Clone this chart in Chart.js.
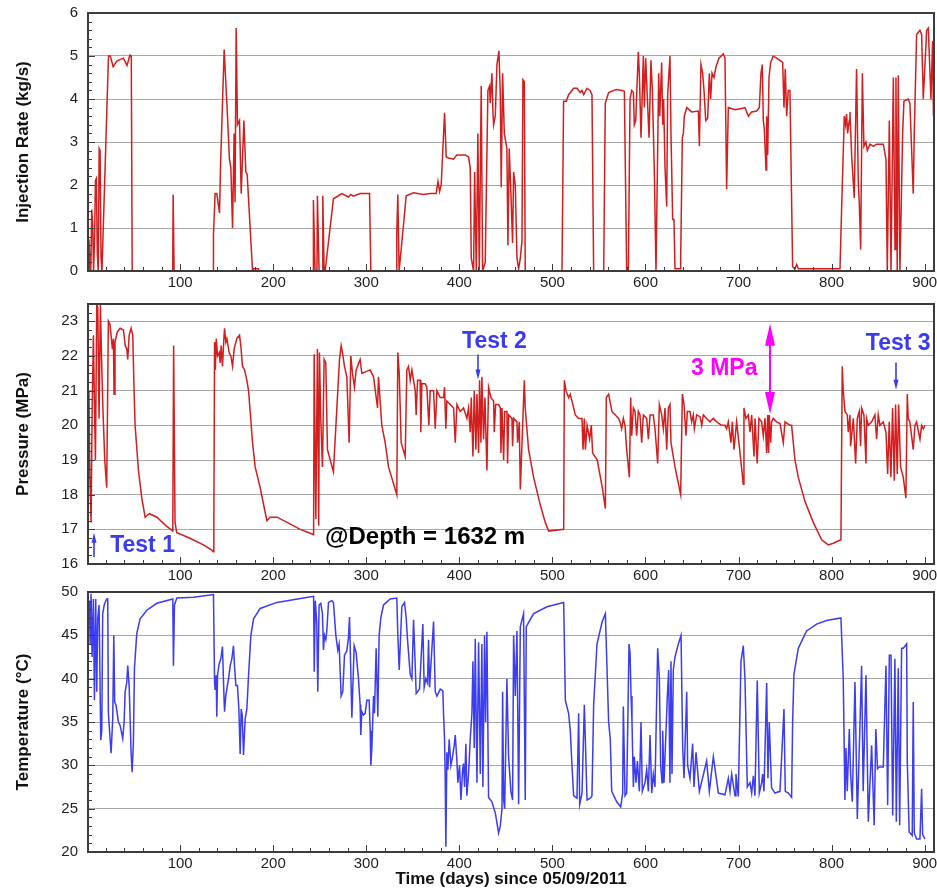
<!DOCTYPE html>
<html>
<head>
<meta charset="utf-8">
<title>Injection rate, pressure and temperature</title>
<script src="https://cdn.jsdelivr.net/npm/chart.js@4.4.0/dist/chart.umd.min.js"></script>
<style>
  body { margin: 0; background: #fff; }
  canvas { position: absolute; left: 0; }
</style>
</head>
<body>
<canvas id="rateChart" width="937" height="295" style="top:0px"></canvas>
<canvas id="pressureChart" width="937" height="303" style="top:285px"></canvas>
<canvas id="tempChart" width="937" height="315" style="top:575px"></canvas>

<script>
// ---- data (days since 05/09/2011) ----
const xTicks = [100, 200, 300, 400, 500, 600, 700, 800, 900];
const rateTicks = [0, 1, 2, 3, 4, 5, 6];
const pressureTicks = [16, 17, 18, 19, 20, 21, 22, 23];
const tempTicks = [20, 25, 30, 35, 40, 45, 50];

// injection rate, kg/s
const rateDays = [
  1.2, 2, 3, 4, 5, 6, 7, 8, 9, 10, 11, 12, 13, 14, 15, 16, 23, 25, 28, 32, 39, 43, 46, 47.5, 48.5,
  92, 92.5, 93.5,
  135.5, 135.8, 137.6, 139.4, 142.3, 143.5, 147.3, 150.2, 153, 154.5, 156.3, 158, 159, 160.2, 161.6, 163.8,
  165.6, 168.5, 170.6, 172, 177.8, 179, 184, 185,
  243, 243.2, 245, 247, 247.5, 249.3, 253, 253.3, 254.7, 255.8, 264.7, 270.1, 273.7, 280.9, 283.4, 286,
  293.4, 303.5, 304.9,
  332.5, 332.8, 333.9, 335.3, 342.9, 350.8, 361.5, 368.7, 375.1, 377, 378.8, 380.5, 384.1, 385.9, 388.4,
  393.8, 397.4, 406.3, 409.9, 411.7, 412.8, 415.3, 416.4, 418.2, 419.9, 421.4, 423.5, 425, 427.8, 430.7,
  432.5, 433.2, 435, 436.1, 436.8, 438.6, 440.4, 442.5, 444, 445, 446.5, 448.3, 451.1, 452.2, 453.6,
  455.4, 457.2, 458.3, 460.1, 461.9, 463.7, 465.5, 467.3, 468.3, 469.8, 470.8,
  510.3, 512, 514.9, 517.4, 522.8, 526.4, 530, 531.8, 533.6, 537.2, 540.4, 542.5, 544.3,
  555.1, 556.8, 560.4, 565.8, 569, 574.4, 577.3, 579.8,
  581.6, 583.4, 585.2, 587, 588, 589.5, 592.3, 593.4, 595.2, 597.7, 598.8, 600.2, 603.8, 605.9, 607.4,
  609.5, 611.3, 614.2, 615.3, 617.4, 618.5, 619.5, 621, 622.8, 623.8, 626.3, 627.4, 629.2, 630.6, 631.7,
  637.1, 637.8, 639.6, 640.7, 641.7, 644.3, 649.6, 656.8, 657.9, 659.6, 661.4, 662.9, 664.7, 666.8, 668.6,
  670, 671.5, 673.6, 675.8, 679, 683.6, 685.4, 687.2, 689, 696.2, 703.3, 706.9, 708.7, 710.5, 714.1,
  719.4, 722.3, 724.1, 725.5, 726.6, 727.7, 729.5, 730.2, 731.3, 732.7, 734.5, 737.3, 740.9, 744.5, 747.4,
  748.8, 750.2, 751.7, 753.4, 755.2, 758.1, 760.6, 762.4, 764.2,
  809, 810.8, 813.6, 815, 816.1, 817.2, 819, 819.7, 821.5, 824.3, 826.8, 828.6, 829.7, 831.2, 833, 834.7,
  836.9, 838.3, 841.2, 844.8, 848.3, 855.5, 858.4, 859.8, 862, 863.8, 866.3, 868.1, 869.1, 870.5, 871.6,
  873.4, 876.3, 877.7, 882.3, 884.1, 887.7, 888.8, 891.3, 894.9, 896.7, 898.5, 902.1, 903.9, 906.7, 908.5,
  909.4
];
const rateValues = [
  0, 0.73, 0.2, 0, 1.43, 1.1, 0, 0.7, 2.1, 2.15, 0.4, 0, 2.85, 2.8, 0.3, 0, 5.0, 5.0, 4.75, 4.88, 4.95, 4.78, 5.02, 5.0, 0,
  0, 1.78, 0,
  0, 0.85, 1.8, 1.8, 1.35, 2.5, 5.15, 3.9, 2.6, 2.4, 1.0, 3.2, 1.6, 5.65, 3.4, 3.5,
  1.8, 3.5, 2.3, 2.25, 0, 0.05, 0.05, 0,
  0, 1.65, 0, 0, 1.75, 0, 0, 1.75, 0, 0, 1.68, 1.75, 1.8, 1.72, 1.78, 1.74,
  1.8, 1.8, 0,
  0, 0.9, 1.78, 0, 1.75, 1.82, 1.78, 1.8, 1.8, 2.08, 1.85, 2.0, 3.68, 2.65, 2.63,
  2.6, 2.7, 2.7, 2.65, 2.4, 0.3, 0, 2.3, 0, 3.2, 0, 4.3, 0, 0.2, 4.2,
  4.3, 3.9, 4.6, 3.7, 3.4, 3.6, 4.8, 5.12, 4.1, 1.95, 4.6, 3.2, 2.85, 0.6, 2.85,
  1.8, 0.65, 2.3, 2.0, 0.3, 0.05, 0.3, 0.7, 4.45, 4.4, 0,
  0, 3.95, 3.95, 4.1, 4.25, 4.25, 4.15, 4.2, 4.1, 4.25, 4.2, 4.1, 0,
  0, 3.9, 4.15, 4.2, 4.22, 4.2, 4.18, 0,
  0, 4.0, 4.2, 4.15, 3.4, 3.5, 5.1, 4.6, 3.1, 5.0, 3.8, 4.95, 3.1, 4.9, 4.2,
  2.3, 0, 4.6, 3.6, 4.85, 3.4, 4.0, 2.4, 1.5, 4.1, 5.0, 3.2, 1.2, 1.2, 0.05,
  0.05, 0.3, 3.1, 3.2, 3.6, 3.8, 3.7, 3.72, 2.9, 4.8, 4.6, 4.2, 3.5, 3.55, 4.6,
  4.0, 4.6, 4.5, 4.75, 4.95, 5.05, 4.95, 1.9, 3.8, 3.75, 3.78, 3.8, 3.7, 3.6, 3.7,
  3.72, 3.8, 4.6, 4.8, 3.5, 3.3, 2.35, 3.6, 2.7, 4.5, 4.85, 5.0, 4.95, 4.9, 4.85,
  3.8, 4.7, 3.6, 4.2, 4.2, 0.1, 0.05, 0.15, 0.05,
  0.05, 1.5, 3.6, 3.4, 3.65, 3.2, 3.5, 3.7, 2.7, 1.7, 4.7, 2.1, 1.6, 0.5, 4.6, 2.9,
  3.0, 2.8, 2.95, 2.9, 2.95, 2.95, 2.6, 0, 3.5, 0, 4.5, 0.5, 4.5, 0, 4.55,
  0, 3.2, 3.95, 4.0, 3.9, 1.8, 3.2, 5.5, 5.6, 5.5, 4.0, 5.6, 5.65, 4.0, 5.35,
  3.6
];

// pressure, MPa
const pressureDays = [
  1.2, 2, 3, 4.3, 5.5, 6.8, 8, 9, 10.4, 11.5, 12.9, 14.3, 15.5, 17, 19, 21.1, 22.9, 24.7, 27.2, 28.3, 29,
  30, 32.6, 35.5, 39.1, 41, 42.7, 43.7, 45.2, 47.3, 49.1, 50.5, 51.6, 55.2, 58.8, 62.4, 64.5, 67, 75, 85,
  92.1, 93, 94.5, 96.4, 110, 125, 134, 135.5, 136.2, 137, 137.8, 138.8, 140.2, 142, 143, 144.1, 145.5,
  146.6, 147.7, 149.1, 150.2, 152.7, 154.5, 156.3, 158, 160.9, 163.8, 165.2, 167, 169.2, 171.7, 173.5,
  177.8, 180.6, 186, 193.2, 196.8, 204, 215, 229, 243.4,
  244, 245.8, 247.5, 248.9, 249.7, 251.1, 252.9, 254.7, 256.5, 258.3, 264.7, 271.2, 273, 274.4, 276.6,
  279.1, 281.6, 283.4, 285.2, 287.3, 289.1, 293.4, 295.2, 304.2, 307.8, 312.1, 313.1, 316.7, 320.3, 323.9,
  332.8, 333.9, 335.4, 337.5, 341.8, 343.6, 345.4, 347.2, 349, 350.8, 352.6, 353.6, 355.1, 357.9, 358.6,
  359.7, 363.3, 365.1, 367.2, 368.7, 372.3, 374.1, 375.9, 379.5, 383, 384.1, 385.5, 386.6, 390.2, 393.8,
  395.6, 397.4, 400.9, 404.5, 408.1, 409.9, 411.7, 412.8, 414.6, 416, 417.8, 418.9, 420.7, 421.7, 423.2,
  424.2, 426, 427.5, 429.6, 431.4, 434, 436.8, 437.5, 439, 442.2, 444, 444.7, 445.8, 447.6, 448.7, 451.1,
  451.8, 453, 456.5, 457.2, 458.3, 461.9, 462.6, 464.4, 465.5, 469.8, 470.8, 474.4, 479.8, 487, 492.3,
  496, 512.1,
  512.8, 514.6, 517.4, 519.2, 522.8, 524.6, 528.2, 531.8, 532.9, 534.3, 535.4, 537.2, 540, 541.8, 543.2,
  548.2, 553.6, 556.9, 557.9, 560.4, 563.9, 567.6, 571.1, 572.6, 574.4, 576.2, 578, 579.8, 582.7, 584.1,
  585.2, 587, 588.8, 590.5, 592.3, 594.1, 595.9, 597.7, 601.3, 603.1, 604.9, 608.4, 610.2, 613.1, 614.9,
  617.4, 619.2, 621, 622.8, 624.6, 626.3, 627.4, 631.7, 637.8, 639.6, 641.4, 643.5, 645, 647.8, 649.6,
  651.4, 652.5, 655, 658.6, 660.4, 662.2, 665.7, 669.3, 672.9, 676.5, 681.8, 685.4, 687.2, 689, 691.9,
  693.3, 695.1, 697.9, 700.8, 705.1, 705.8, 708, 710.5, 712.3, 714.1, 716.6, 717.7, 720.1, 721.9, 724.8,
  726.6, 728.4, 730.2, 731.3, 732.3, 733, 734.5, 735.5, 737.3, 740.9, 744.5, 748.1, 749.9, 755.2, 757,
  760.6, 764.2, 771.4, 780.3, 789.3, 796.4, 801.8, 810,
  811.4, 812.5, 814.3, 816.8, 817.9, 819.7, 820.4, 823.3, 825.8, 827.6, 829.7, 831.1, 832.2, 834.7, 836.9,
  837.6, 839.4, 843, 846.5, 848.3, 850.1, 851.9, 855.5, 858.4, 860.2, 861.9, 863.7, 865.5, 867.3, 868.7,
  870.5, 872, 874.1, 877, 879.8, 881.3, 882.3, 884.1, 887.7, 889.5, 891.3, 894.9, 896.7, 898.5, 900.2
];
const pressureValues = [
  19.0, 21.0, 18.5, 17.2, 20.5, 22.6, 20.5, 19.0, 23.5, 23.4, 20.2, 23.5, 22.0, 20.5, 19.0, 18.2, 23.0, 22.9, 22.2, 22.5, 20.9,
  22.4, 22.7, 22.8, 22.75, 22.3, 22.2, 21.9, 22.6, 22.8, 22.6, 21.0, 20.0, 18.7, 17.9, 17.35, 17.4, 17.45, 17.35, 17.1,
  16.95, 22.3, 17.2, 16.9, 16.75, 16.55, 16.4, 16.35, 17.1, 22.4, 21.6, 22.5, 22.0, 22.1, 21.8, 22.3, 21.7,
  22.3, 22.8, 22.4, 22.5, 22.1, 22.0, 21.7, 22.2, 22.5, 22.6, 22.3, 21.7, 21.6, 21.3, 21.0,
  19.5, 18.8, 18.2, 17.25, 17.35, 17.35, 17.2, 17.0, 16.85,
  22.05, 17.3, 22.2, 17.1, 22.1, 20.2, 18.8, 21.9, 21.8, 19.3, 18.66, 21.9, 22.3, 22.1, 21.7,
  21.4, 19.5, 22.0, 21.5, 21.1, 21.6, 21.9, 21.5, 21.6, 21.4, 20.5, 21.4, 20.0, 19.5, 18.8,
  18.0, 22.1, 21.5, 19.5, 19.1, 21.6, 21.7, 21.3, 21.6, 21.3, 21.0, 20.3, 21.3, 21.3, 19.8,
  21.2, 21.2, 21.1, 20.0, 21.0, 21.0, 19.9, 21.0, 20.8, 20.8, 21.1, 19.9, 20.7, 20.6, 20.5,
  19.5, 20.6, 20.4, 20.5, 20.2, 20.5, 19.8, 20.8, 19.1, 21.0, 19.3, 20.9, 19.2, 21.3, 19.5,
  21.4, 19.6, 20.8, 18.7, 21.1, 20.8, 20.7, 19.8, 20.6, 20.6, 20.5, 19.2, 20.5, 19.0, 20.4, 20.4,
  18.9, 20.3, 20.2, 19.4, 20.2, 20.1, 19.5, 20.1, 18.15, 21.3, 20.5, 19.3, 18.5, 17.7, 17.2,
  16.95, 17.0,
  21.3, 21.0, 20.8, 20.9, 20.5, 20.3, 20.2, 20.2, 19.3, 20.2, 19.3, 20.0, 19.6, 20.0, 19.2,
  19.0, 18.2, 17.6, 20.8, 20.9, 20.4, 20.3, 20.2, 20.1, 19.9, 20.2, 20.0, 19.3, 18.5, 20.8,
  19.7, 20.5, 20.4, 19.7, 20.4, 20.3, 19.5, 20.3, 20.2, 19.6, 20.3, 20.3, 19.9, 18.9, 20.6,
  20.3, 19.9, 20.5, 19.3, 20.5, 20.6, 19.5, 18.8, 18.0, 20.9, 20.6, 19.7, 20.4, 20.4, 20.1,
  20.3, 19.9, 20.3, 20.25, 20.0, 20.3, 20.2, 20.1, 20.2, 20.1, 20.0, 20.0, 19.9, 20.1, 19.5,
  20.1, 19.3, 20.1, 19.4, 18.3, 20.5, 20.2, 20.3, 19.8, 20.3, 19.1, 20.2, 18.9, 20.2, 20.1,
  19.7, 20.2, 19.2, 20.3, 19.2, 20.3, 19.5, 20.1, 20.2, 20.1, 20.05, 19.5, 20.1, 20.0, 20.0,
  19.0, 18.5, 17.8, 17.2, 16.7, 16.55, 16.6, 16.7,
  21.7, 21.0, 20.4, 20.3, 19.8, 20.3, 19.4, 20.2, 18.9, 20.2, 20.4, 19.4, 20.5, 20.3, 18.9,
  20.2, 20.0, 20.1, 20.3, 19.6, 20.3, 20.0, 20.1, 19.8, 18.6, 20.1, 18.5, 20.5, 18.4, 20.6,
  18.6, 20.6, 18.8, 18.5, 17.9, 20.9, 20.2, 20.1, 19.3, 20.0, 20.1, 19.6, 20.0, 19.9, 20.0
];

// temperature, °C
const tempDays = [
  1.2, 2.5, 3.3, 4.3, 5.4, 6.8, 7.9, 9.3, 10.4, 11.5, 12.9, 14.7, 15.8, 16.8, 18.6, 21.1, 22.2, 22.9, 25.8,
  27.6, 28.7, 29.7, 31.2, 33.7, 35.5, 38.3, 39.8, 40.9, 42.7, 43.7, 45.2, 47.3, 48.4, 49.8, 50.9, 53.4, 57,
  64.2, 74.9, 92.1, 92.8, 93.9, 96.4, 114.3, 135.8, 137, 137.6, 138.7, 139.4, 140.2, 141.9, 143.7, 145.5,
  146.6, 147.7, 149.1, 150.2, 152, 153.8, 155.6, 157.3, 158.4, 159.9, 161.6, 163.1, 164.5, 165.6, 166.7,
  168.1, 169.9, 171.7, 173.5, 176, 178.9, 186, 203.9, 232.5, 243.4,
  244.1, 245.2, 246.8, 247.9, 249.3, 251.1, 252.9, 254, 255.1, 256.5, 257.6, 259.4, 263, 264.7, 267.3,
  269.4, 270.8, 273, 274.8, 276.6, 279.1, 280.9, 282, 284.5, 287, 289.1, 291.6, 293.4, 294.1, 295.2, 297,
  298.8, 300.6, 303.1, 304.2, 304.9, 306, 307.8, 308.8, 310.6, 312.4, 313.8, 315.6, 318.5, 325.7, 332.8,
  333.9, 335.4, 338.2, 341.1, 342.9, 344.3, 345.4, 347.2, 349, 350.8, 352.6, 353.6, 355.1, 357.2, 360.8,
  362.2, 364, 365.8, 366.9, 368, 372.3, 374.1, 375.9, 379.5, 382.3, 383, 384.1, 384.8, 385.5, 386.6,
  387.7, 389.1, 390.9, 392.7, 394.5, 395.6, 397.4, 398.4, 400.2, 401.7, 403.5, 404.5, 405.6, 407, 408.1,
  409.9, 411.7, 413.5, 414.6, 416, 417.1, 418.9, 420.7, 422.5, 424.2, 425.3, 427.1, 428.2, 429.6, 431.4,
  435, 438.6, 442.2, 444, 445.8, 446.5, 447.6, 448.7, 451.1, 452.9, 455.4, 457.2, 458.3, 460.1, 461.9,
  463.7, 465.5, 469, 470.8, 471.9, 479.8, 494.2, 512.1,
  513.9, 517.4, 519.2, 521, 522.8, 526.4, 528.2, 529.3, 531.8, 534.3, 537.2, 540.8, 542.5, 544.3, 547.9,
  553.3, 556.9, 560.4, 562.2, 563.7, 569.1, 573.4, 575.5, 576.2, 578, 579.8, 582.3, 583.4, 584.5, 585.5,
  587, 588, 589.8, 591.3, 593.4, 595.2, 596.6, 599.5, 601.3, 603.1, 604.9, 606.7, 608.4, 610.2, 613.1,
  614.9, 616.3, 617.8, 618.5, 619.9, 623.5, 624.9, 626.3, 627.4, 628.5, 629.9, 631.7, 635.3, 638.2, 640,
  641.4, 644.3, 645.3, 647.8, 650.7, 652.1, 654.3, 657.9, 665.7, 668.6, 672.9, 678.3, 685.4, 689, 690.8,
  692.6, 696.2, 697.2, 699.7, 702.6, 705.1, 706.9, 709.4, 712.3, 714.1, 715.9, 717.6, 720.1, 722.3, 724.8,
  725.9, 727.3, 730.2, 731.6, 733, 735.5, 739.1, 744.5, 748.8, 750.2, 753.5, 757, 758.1, 759.5, 764.2,
  773.1, 783.9, 794.6, 810,
  812.5, 814.3, 815.4, 816.8, 819, 820.4, 822.2, 823.3, 825.1, 827.6, 832.2, 833.9, 836.9, 839.4, 843,
  845.7, 847.5, 849.3, 851.1, 855.5, 858.4, 860.2, 862, 863.8, 865.6, 868, 869.5, 871.6, 873.1, 875.2,
  877, 880.6, 881.3, 883.3, 886.6, 887.7, 888.8, 891.3, 894.9, 896.7, 897.8, 900.2
];
const tempValues = [
  46.5, 49.0, 44.0, 49.8, 42.5, 49.2, 37.5, 49.2, 38.5, 47.0, 48.5, 32.9, 34.0, 47.5, 48.6, 49.2, 49.2, 36.0, 31.4,
  35.4, 45.0, 37.3, 36.9, 35.0, 34.6, 33.1, 35.0, 38.5, 39.6, 41.5, 39.2, 31.5, 29.2, 32.7, 41.2, 45.2, 46.9,
  47.9, 48.7, 49.2, 41.5, 48.5, 49.3, 49.4, 49.7, 39.6, 38.7, 40.4, 35.6, 40.4, 41.7, 42.3, 43.7,
  39.6, 36.2, 38.1, 38.8, 40.0, 41.5, 42.3, 43.8, 41.5, 39.2, 39.2, 36.5, 31.3, 36.5, 35.8,
  31.2, 35.4, 36.5, 40.4, 45.0, 46.9, 48.1, 48.8, 49.3, 49.5,
  40.8, 49.0, 46.5, 38.5, 48.5, 48.7, 47.5, 43.3, 45.0, 44.5, 45.5, 48.8, 49.0, 48.8, 45.0,
  43.3, 44.0, 38.0, 38.5, 42.7, 43.2, 44.8, 47.1, 35.5, 43.8, 43.0, 40.0, 37.0, 33.5, 36.2, 35.8,
  36.0, 37.5, 37.5, 34.0, 30.0, 32.0, 38.0, 36.0, 43.5, 35.6, 45.0, 47.0, 48.5, 49.2, 49.3,
  45.0, 41.0, 48.3, 48.8, 47.0, 44.5, 43.0, 40.5, 40.0, 46.8, 41.5, 38.3, 38.5, 38.8, 46.3,
  39.0, 40.0, 39.5, 44.5, 39.0, 46.6, 38.5, 38.0, 38.8, 38.6, 36.0, 33.0, 28.5, 20.6, 31.5,
  29.5, 33.0, 30.0, 31.0, 32.3, 33.5, 30.5, 28.0, 30.0, 26.0, 29.5, 30.2, 27.5, 32.5, 26.5,
  29.0, 33.0, 36.0, 42.0, 32.0, 44.6, 28.0, 44.2, 29.0, 44.0, 27.5, 45.0, 35.0, 45.4, 26.3,
  25.8, 24.5, 22.2, 23.0, 25.0, 38.5, 26.0, 25.0, 40.0, 31.0, 27.0, 26.0, 45.0, 38.0, 45.5,
  25.5, 46.0, 47.5, 26.0, 46.0, 47.5, 48.3, 48.8,
  37.5, 36.0, 34.0, 30.0, 26.5, 26.2, 36.0, 25.5, 26.8, 37.0, 26.0, 26.2, 26.5, 37.0, 44.0,
  46.5, 47.5, 35.0, 33.0, 27.0, 25.8, 25.2, 26.8, 36.8, 26.5, 26.8, 44.0, 43.0, 38.0, 35.0,
  27.5, 31.0, 28.0, 30.5, 27.0, 35.0, 27.0, 28.0, 29.5, 27.0, 33.5, 26.8, 29.0, 27.5, 43.5,
  40.0, 30.0, 28.0, 34.0, 28.0, 38.0, 41.0, 28.0, 42.0, 29.0, 41.0, 42.5, 44.0, 45.0, 32.0,
  28.5, 38.5, 30.0, 28.5, 32.5, 27.5, 31.5, 27.0, 30.5, 27.0, 31.0, 26.8, 26.6, 28.5, 27.0,
  29.0, 26.5, 29.0, 26.4, 42.0, 43.8, 40.0, 27.5, 28.0, 26.8, 28.8, 26.5, 39.8, 26.8, 28.0,
  29.0, 27.0, 39.5, 28.5, 35.0, 27.4, 26.8, 27.0, 36.5, 27.0, 26.8, 26.3, 35.0, 40.5, 43.5,
  45.5, 46.3, 46.7, 47.0,
  40.0, 26.0, 32.0, 27.0, 34.2, 29.0, 25.8, 31.0, 39.6, 23.8, 41.5, 27.0, 40.4, 23.5, 32.3,
  23.1, 34.2, 29.6, 29.8, 29.8, 41.5, 25.4, 42.7, 42.7, 24.2, 42.3, 23.5, 41.2, 23.1, 43.5,
  43.5, 44.0, 30.4, 22.3, 21.9, 37.3, 22.2, 21.5, 21.5, 27.3, 22.0, 21.5
];

// ---- annotations on the pressure panel ----
const testLabels = ['Test 1', 'Test 2', 'Test 3'];
const testDays = [7.6, 420, 869];

const FONT = '"Liberation Sans", Arial, Helvetica, sans-serif';
Chart.defaults.font.family = FONT;
Chart.defaults.font.size = 15;
Chart.defaults.color = '#1e1e1e';

const toPoints = (days, values) => days.map((d, i) => ({ x: d, y: values[i] }));

// frame around the plot area plus inward-pointing major/minor ticks
const panelFrame = {
  id: 'panelFrame',
  afterDatasetsDraw(chart, args, opts) {
    const { ctx, chartArea: a, scales: { x, y } } = chart;
    ctx.save();
    ctx.strokeStyle = '#3c3c3c';
    ctx.lineWidth = 1;
    ctx.beginPath();
    for (let v = 0; v <= x.max; v += 20) {
      if (v < x.min) continue;
      const px = Math.round(x.getPixelForValue(v)) + 0.5;
      const len = v % 100 === 0 ? 7 : 4;
      ctx.moveTo(px, a.bottom);
      ctx.lineTo(px, a.bottom - len);
    }
    const n = Math.round((y.max - y.min) / opts.yMinor);
    for (let i = 0; i <= n; i++) {
      const v = y.min + i * opts.yMinor;
      const major = Math.abs(v / opts.yMajor - Math.round(v / opts.yMajor)) < 1e-6;
      const py = Math.round(y.getPixelForValue(v)) + 0.5;
      ctx.moveTo(a.left, py);
      ctx.lineTo(a.left + (major ? 7 : 4), py);
    }
    ctx.stroke();
    ctx.lineWidth = 2;
    ctx.strokeRect(a.left, a.top, a.right - a.left, a.bottom - a.top);
    ctx.restore();
  }
};

function drawArrow(ctx, x, yFrom, yTo, width, headLen, headW, both) {
  const dir = yTo < yFrom ? -1 : 1;
  ctx.lineWidth = width;
  ctx.beginPath();
  ctx.moveTo(x, both ? yFrom + dir * headLen * 0.8 : yFrom);
  ctx.lineTo(x, yTo - dir * headLen * 0.8);
  ctx.stroke();
  const head = (tipY, d) => {
    ctx.beginPath();
    ctx.moveTo(x, tipY);
    ctx.lineTo(x - headW / 2, tipY - d * headLen);
    ctx.lineTo(x + headW / 2, tipY - d * headLen);
    ctx.closePath();
    ctx.fill();
  };
  head(yTo, dir);
  if (both) head(yFrom, -dir);
}

const pressureNotes = {
  id: 'pressureNotes',
  afterDatasetsDraw(chart) {
    const { ctx, scales: { x, y } } = chart;
    ctx.save();
    ctx.textBaseline = 'middle';
    ctx.textAlign = 'left';

    // test markers
    const blue = '#3a3af0';
    ctx.fillStyle = blue;
    ctx.strokeStyle = blue;
    ctx.font = 'bold 23px ' + FONT;
    const textAt = [[24.8, 16.54], [402.9, 22.41], [836.8, 22.36]];
    const arrowSpan = [[16.2, 16.9], [22.04, 21.32], [21.81, 21.03]];
    testLabels.forEach((label, i) => {
      ctx.fillText(label, x.getPixelForValue(textAt[i][0]), y.getPixelForValue(textAt[i][1]));
      const px = Math.round(x.getPixelForValue(testDays[i]));
      drawArrow(ctx, px, y.getPixelForValue(arrowSpan[i][0]), y.getPixelForValue(arrowSpan[i][1]), 1.6, 10, 5, false);
    });

    // 3 MPa range
    ctx.fillStyle = '#ff00ff';
    ctx.strokeStyle = '#ff00ff';
    ctx.fillText('3 MPa', x.getPixelForValue(648.9), y.getPixelForValue(21.64));
    drawArrow(ctx, Math.round(x.getPixelForValue(733.4)), y.getPixelForValue(20.33), y.getPixelForValue(22.93), 2, 22, 10, true);

    // depth label
    ctx.fillStyle = '#000';
    ctx.font = 'bold 24px ' + FONT;
    ctx.fillText('@Depth = 1632 m', x.getPixelForValue(255.7), y.getPixelForValue(16.77));
    ctx.restore();
  }
};

function makePanel(id, cfg) {
  return new Chart(document.getElementById(id), {
    type: 'line',
    data: {
      datasets: [{
        data: toPoints(cfg.days, cfg.values),
        borderColor: cfg.color,
        borderWidth: 1.5,
        pointRadius: 0,
        tension: 0,
        fill: false
      }]
    },
    options: {
      responsive: false,
      animation: false,
      events: [],
      layout: { padding: { top: cfg.padTop, right: 3, left: 0, bottom: 0 } },
      plugins: {
        legend: { display: false },
        tooltip: { enabled: false },
        panelFrame: { yMinor: cfg.yMinor, yMajor: cfg.yMajor }
      },
      scales: {
        x: {
          type: 'linear',
          min: 1,
          max: 910,
          afterBuildTicks: s => { s.ticks = xTicks.map(v => ({ value: v })); },
          afterFit: s => {
            s.height = cfg.xHeight;
            s.paddingLeft = 0;
            s.paddingRight = 0;
          },
          grid: { display: false, drawTicks: false },
          border: { display: false },
          ticks: { padding: 3, maxRotation: 0, autoSkip: false },
          title: {
            display: !!cfg.xTitle,
            text: cfg.xTitle || '',
            font: { size: 17, weight: 'bold' },
            color: '#111',
            padding: { top: 0, bottom: 0 }
          }
        },
        y: {
          min: cfg.yMin,
          max: cfg.yMax,
          afterBuildTicks: s => { s.ticks = cfg.yTicks.map(v => ({ value: v })); },
          afterFit: s => {
            s.width = 88;
            s.paddingTop = 0;
            s.paddingBottom = 0;
          },
          grid: { color: '#a9a9a9', lineWidth: 1, drawTicks: false },
          border: { display: false },
          ticks: { padding: 10 },
          title: {
            display: true,
            text: cfg.yTitle,
            font: { size: 17, weight: 'bold' },
            color: '#111',
            padding: { top: 13, bottom: 0 }
          }
        }
      }
    },
    plugins: cfg.extra ? [panelFrame, cfg.extra] : [panelFrame]
  });
}

makePanel('rateChart', {
  days: rateDays, values: rateValues, color: '#d21e1e',
  yMin: 0, yMax: 6, yTicks: rateTicks, yMinor: 0.2, yMajor: 1,
  yTitle: 'Injection Rate (kg/s)', padTop: 13, xHeight: 24
});

makePanel('pressureChart', {
  days: pressureDays, values: pressureValues, color: '#d21e1e',
  yMin: 16, yMax: 23.5, yTicks: pressureTicks, yMinor: 0.25, yMajor: 1,
  yTitle: 'Pressure (MPa)', padTop: 19, xHeight: 24, extra: pressureNotes
});

makePanel('tempChart', {
  days: tempDays, values: tempValues, color: '#3c3cf0',
  yMin: 20, yMax: 50, yTicks: tempTicks, yMinor: 1, yMajor: 5,
  yTitle: 'Temperature (\u00B0C)', padTop: 17, xHeight: 38,
  xTitle: 'Time (days) since 05/09/2011'
});
</script>
</body>
</html>
